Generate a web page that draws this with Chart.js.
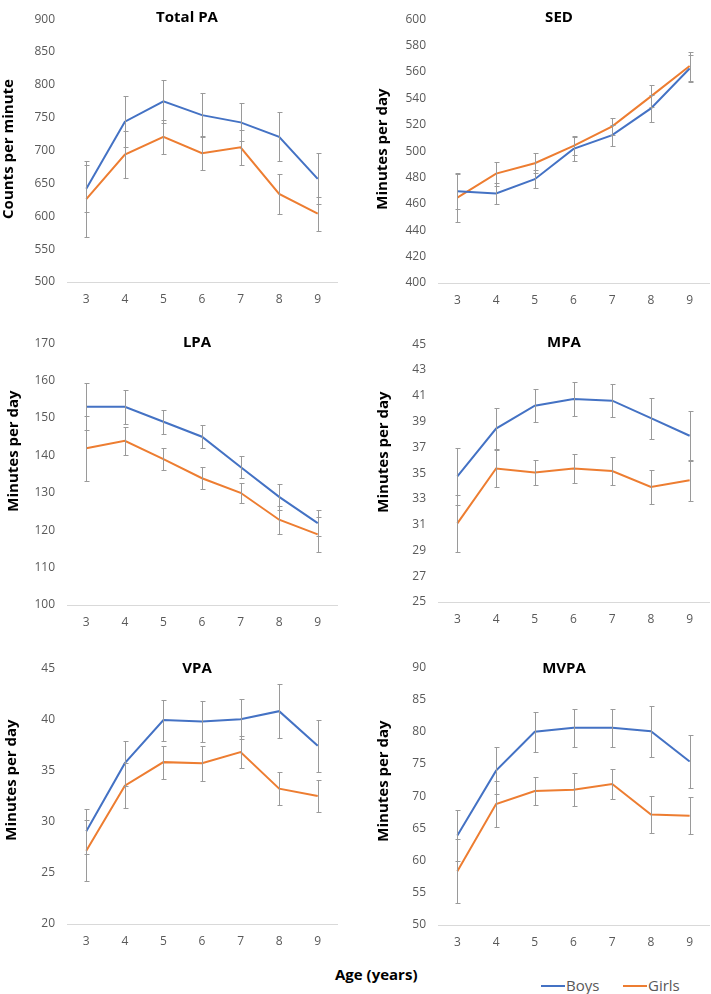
<!DOCTYPE html>
<html>
<head>
<meta charset="utf-8">
<script src="https://cdn.jsdelivr.net/npm/chart.js@4.4.0/dist/chart.umd.min.js"></script>
<style>
  html, body { margin: 0; padding: 0; background: #fff; overflow: hidden; }
  #wrap { position: relative; width: 711px; height: 994px; font-family: "Open Sans", sans-serif; }
  #wrap canvas { position: absolute; }
  #xTitle { position: absolute; left: 335px; top: 967px; font-size: 15px; line-height: 15px; font-weight: bold; color: #000; white-space: nowrap; }
  .legItem { position: absolute; top: 978px; height: 15px; display: flex; align-items: center; font-size: 15px; line-height: 15px; color: #595959; }
  .legItem i { display: inline-block; width: 24px; height: 2px; margin-right: 1px; }
</style>
</head>
<body>
<div id="wrap">
  <div id="xTitle">Age (years)</div>
</div>
<script>
const ages = ['3', '4', '5', '6', '7', '8', '9'];
const seriesNames = ['Boys', 'Girls'];

const totalPaTicks = [500, 550, 600, 650, 700, 750, 800, 850, 900];
const totalPaBoys = [642, 744, 775, 754, 743, 721, 657];
const totalPaBoysSe = [36, 39, 33, 33, 29, 37, 39];
const totalPaGirls = [626, 694, 721, 696, 705, 634, 604];
const totalPaGirlsSe = [58, 36, 26, 26, 27, 30, 26];

const sedTicks = [400, 420, 440, 460, 480, 500, 520, 540, 560, 580, 600];
const sedBoys = [469.6, 467.9, 478.7, 501.7, 512.1, 532.4, 562.6];
const sedBoysSe = [13.4, 8, 7, 9.4, 8, 10, 10];
const sedGirls = [464.7, 482.9, 490.8, 503.9, 518.8, 541.5, 564.5];
const sedGirlsSe = [18.6, 9, 7.5, 6.7, 6.6, 8.3, 11];

const lpaTicks = [100, 110, 120, 130, 140, 150, 160, 170];
const lpaBoys = [153, 153, 149, 145, 136.9, 128.9, 121.9];
const lpaBoysSe = [6.3, 4.5, 3.2, 3.1, 2.9, 3.5, 3.5];
const lpaGirls = [141.9, 143.9, 139, 133.9, 130, 122.8, 118.9];
const lpaGirlsSe = [8.7, 3.7, 3, 2.9, 2.7, 3.7, 4.6];

const mpaTicks = [25, 27, 29, 31, 33, 35, 37, 39, 41, 43, 45];
const mpaBoys = [34.74, 38.45, 40.23, 40.75, 40.62, 39.26, 37.9];
const mpaBoysSe = [2.2, 1.6, 1.3, 1.35, 1.3, 1.6, 1.95];
const mpaGirls = [31.1, 35.36, 35.04, 35.36, 35.16, 33.92, 34.44];
const mpaGirlsSe = [2.2, 1.4, 0.95, 1.15, 1.1, 1.35, 1.6];

const vpaTicks = [20, 25, 30, 35, 40, 45];
const vpaBoys = [29.06, 35.72, 39.93, 39.8, 40.02, 40.8, 37.43];
const vpaBoysSe = [2.2, 2.2, 2, 2, 1.95, 2.65, 2.55];
const vpaGirls = [27.16, 33.51, 35.82, 35.72, 36.81, 33.23, 32.52];
const vpaGirlsSe = [3, 2.2, 1.6, 1.7, 1.6, 1.62, 1.6];

const mvpaTicks = [50, 55, 60, 65, 70, 75, 80, 85, 90];
const mvpaBoys = [63.88, 73.95, 79.98, 80.62, 80.62, 80.07, 75.38];
const mvpaBoysSe = [4, 3.65, 3.1, 2.95, 2.95, 3.95, 4.15];
const mvpaGirls = [58.35, 68.77, 70.79, 70.99, 71.88, 67.14, 66.94];
const mvpaGirlsSe = [5, 3.5, 2.2, 2.6, 2.4, 2.8, 2.85];

const colors = ['#4472C4', '#ED7D31'];
const tickColor = '#595959';

// layout of each panel, page coordinates
const panels = [
  { title: 'Total PA', yTitle: 'Counts per minute', ticks: totalPaTicks,
    series: [[totalPaBoys, totalPaBoysSe], [totalPaGirls, totalPaGirlsSe]],
    left: 0, top: 0, w: 355, h: 310, axisW: 67, padR: 18,
    titleX: 187, titleY: 21.5, yTitleX: 12.5, yTitleY: 149 },
  { title: 'SED', yTitle: 'Minutes per day', ticks: sedTicks,
    series: [[sedBoys, sedBoysSe], [sedGirls, sedGirlsSe]],
    left: 355, top: 0, w: 356, h: 311, axisW: 83, padR: 2,
    titleX: 559, titleY: 22, yTitleX: 387, yTitleY: 149 },
  { title: 'LPA', yTitle: 'Minutes per day', ticks: lpaTicks,
    series: [[lpaBoys, lpaBoysSe], [lpaGirls, lpaGirlsSe]],
    left: 0, top: 324, w: 355, h: 309, axisW: 67, padR: 18,
    titleX: 197, titleY: 347, yTitleX: 18, yTitleY: 451 },
  { title: 'MPA', yTitle: 'Minutes per day', ticks: mpaTicks,
    series: [[mpaBoys, mpaBoysSe], [mpaGirls, mpaGirlsSe]],
    left: 355, top: 325, w: 356, h: 305, axisW: 83, padR: 2,
    titleX: 564, titleY: 346.5, yTitleX: 388, yTitleY: 452 },
  { title: 'VPA', yTitle: 'Minutes per day', ticks: vpaTicks,
    series: [[vpaBoys, vpaBoysSe], [vpaGirls, vpaGirlsSe]],
    left: 0, top: 649, w: 355, h: 303, axisW: 67, padR: 18,
    titleX: 197, titleY: 672.5, yTitleX: 16.4, yTitleY: 780 },
  { title: 'MVPA', yTitle: 'Minutes per day', ticks: mvpaTicks,
    series: [[mvpaBoys, mvpaBoysSe], [mvpaGirls, mvpaGirlsSe]],
    left: 355, top: 648, w: 356, h: 305, axisW: 83, padR: 2,
    titleX: 564, titleY: 673, yTitleX: 388, yTitleY: 781 }
];

const errorBars = {
  id: 'errorBars',
  afterDatasetsDraw(chart, args, opts) {
    const ctx = chart.ctx;
    const yScale = chart.scales.y;
    ctx.save();
    ctx.strokeStyle = opts.color;
    ctx.lineWidth = 1;
    chart.data.datasets.forEach((ds, i) => {
      const meta = chart.getDatasetMeta(i);
      meta.data.forEach((pt, j) => {
        const v = ds.data[j], e = ds.errors[j];
        const top = Math.round(yScale.getPixelForValue(v + e)) + 0.5;
        const bot = Math.round(yScale.getPixelForValue(v - e)) + 0.5;
        const x = Math.round(pt.x) + 0.5;
        ctx.beginPath();
        ctx.moveTo(x, top); ctx.lineTo(x, bot);
        ctx.moveTo(x - opts.cap, top); ctx.lineTo(x + opts.cap + 1, top);
        ctx.moveTo(x - opts.cap, bot); ctx.lineTo(x + opts.cap + 1, bot);
        ctx.stroke();
      });
    });
    ctx.restore();
  }
};

const panelText = {
  id: 'panelText',
  afterDraw(chart, args, o) {
    const ctx = chart.ctx;
    ctx.save();
    ctx.fillStyle = '#000';
    ctx.font = 'bold 15px "Open Sans"';
    ctx.textAlign = 'center';
    ctx.textBaseline = 'alphabetic';
    ctx.fillText(o.title, o.titleX, o.titleY);
    ctx.translate(o.yTitleX, o.yTitleY);
    ctx.rotate(-Math.PI / 2);
    ctx.fillText(o.yTitle, 0, 0);
    ctx.restore();
  }
};

const wrap = document.getElementById('wrap');

panels.forEach(p => {
  const canvas = document.createElement('canvas');
  canvas.width = p.w;
  canvas.height = p.h;
  canvas.style.left = p.left + 'px';
  canvas.style.top = p.top + 'px';
  canvas.style.width = p.w + 'px';
  canvas.style.height = p.h + 'px';
  wrap.appendChild(canvas);

  new Chart(canvas.getContext('2d'), {
    type: 'line',
    data: {
      labels: ages,
      datasets: p.series.map((s, i) => ({
        label: seriesNames[i],
        data: s[0],
        errors: s[1],
        borderColor: colors[i],
        backgroundColor: colors[i],
        borderWidth: 2,
        pointRadius: 0,
        tension: 0,
        fill: false
      }))
    },
    options: {
      responsive: false,
      animation: false,
      layout: { padding: { top: 0, right: p.padR, bottom: 0, left: 0 } },
      plugins: {
        legend: { display: false },
        tooltip: { enabled: false },
        errorBars: { color: '#9a9a9a', cap: 2 },
        panelText: {
          title: p.title, titleX: p.titleX - p.left, titleY: p.titleY - p.top,
          yTitle: p.yTitle, yTitleX: p.yTitleX - p.left, yTitleY: p.yTitleY - p.top
        }
      },
      scales: {
        x: {
          offset: true,
          grid: { display: false, drawTicks: false },
          border: { display: true, color: '#d9d9d9', width: 1 },
          ticks: { color: tickColor, font: { family: 'Open Sans', size: 12 }, padding: 10, maxRotation: 0 },
          afterFit: s => { s.height = 28; }
        },
        y: {
          min: p.ticks[0],
          max: p.ticks[p.ticks.length - 1],
          grid: { display: false, drawTicks: false },
          border: { display: false },
          ticks: { stepSize: p.ticks[1] - p.ticks[0], color: tickColor, font: { family: 'Open Sans', size: 12 }, padding: 12 },
          afterFit: s => { s.width = p.axisW; }
        }
      }
    },
    plugins: [errorBars, panelText]
  });
});

// legend
const legLeft = [541, 623];
seriesNames.forEach((name, i) => {
  const item = document.createElement('div');
  item.className = 'legItem';
  item.style.left = legLeft[i] + 'px';
  item.innerHTML = '<i style="background:' + colors[i] + '"></i>' + name;
  wrap.appendChild(item);
});
</script>
</body>
</html>
